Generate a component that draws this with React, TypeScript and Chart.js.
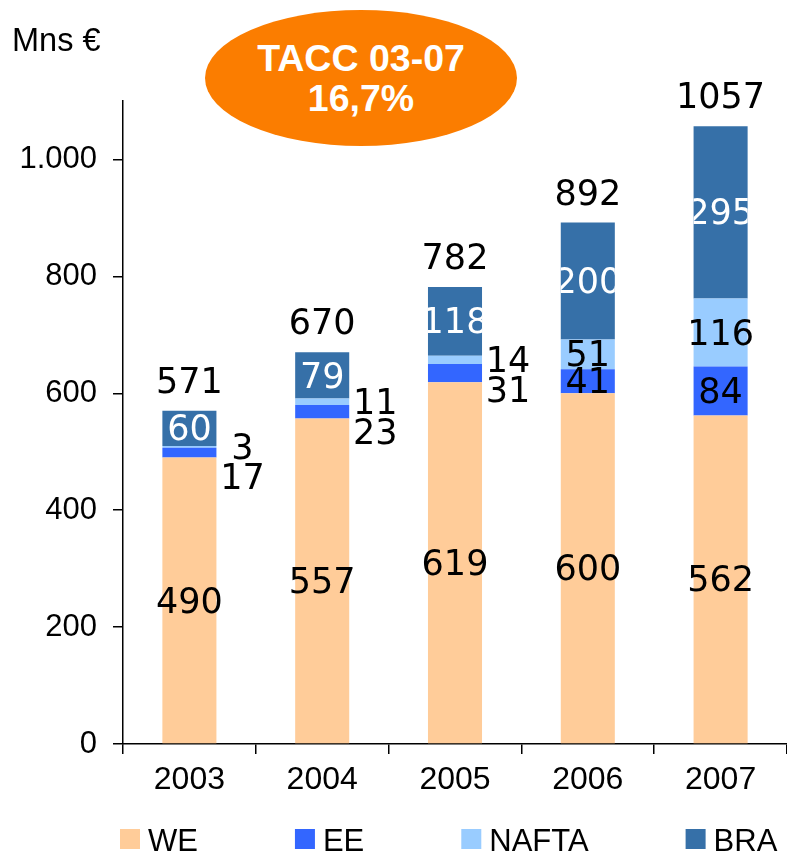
import { useEffect, useRef } from "react";
import { Chart, registerables } from "chart.js";

Chart.register(...registerables);

const years = ["2003", "2004", "2005", "2006", "2007"];
const weValues = [490, 557, 619, 600, 562];
const eeValues = [17, 23, 31, 41, 84];
const naftaValues = [3, 11, 14, 51, 116];
const braValues = [60, 79, 118, 200, 295];
const totalLabels = [571, 670, 782, 892, 1057];
const yTicks = [0, 200, 400, 600, 800, 1000];
const seriesNames = ["WE", "EE", "NAFTA", "BRA"];

const seriesColors = ["#FFCC99", "#3366FF", "#99CCFF", "#3670A8"];
const SANS = '"Liberation Sans", Arial, sans-serif';
const LABEL_FONT = '35px "DejaVu Sans", Verdana, sans-serif';

function fmt(v: number): string {
  if (v >= 1000) {
    return `${Math.floor(v / 1000)}.${String(v % 1000).padStart(3, "0")}`;
  }
  return String(v);
}

const labelPlugin = {
  id: "segLabels",
  afterDatasetsDraw(chart: any) {
    const ctx = chart.ctx as CanvasRenderingContext2D;
    const metas = [0, 1, 2, 3].map((d) => chart.getDatasetMeta(d));
    const mid = (el: any) => (el.y + el.base) / 2 + 3;
    ctx.save();
    ctx.font = LABEL_FONT;
    ctx.textAlign = "center";
    ctx.textBaseline = "middle";
    years.forEach((_, i) => {
      const we = metas[0].data[i];
      const ee = metas[1].data[i];
      const na = metas[2].data[i];
      const br = metas[3].data[i];
      ctx.fillStyle = "#000";
      ctx.fillText(String(weValues[i]), we.x, mid(we));
      const naH = Math.abs(na.base - na.y);
      if (naH < 20) {
        const lx = na.x + na.width / 2 + 26;
        const ny = mid(na);
        ctx.fillText(String(naftaValues[i]), lx, ny);
        ctx.fillText(String(eeValues[i]), lx, Math.max(mid(ee), ny + 30));
      } else {
        ctx.fillText(String(naftaValues[i]), na.x, mid(na));
        ctx.fillText(String(eeValues[i]), ee.x, mid(ee));
      }
      ctx.save();
      ctx.beginPath();
      ctx.rect(br.x - br.width / 2, br.y, br.width, br.base - br.y);
      ctx.clip();
      ctx.fillStyle = "#fff";
      ctx.fillText(String(braValues[i]), br.x, mid(br));
      ctx.restore();
      ctx.fillStyle = "#000";
      ctx.fillText(String(totalLabels[i]), br.x, br.y - 27);
    });
    ctx.restore();
  },
};

const legendPlugin = {
  id: "customLegend",
  afterDraw(chart: any) {
    const ctx = chart.ctx as CanvasRenderingContext2D;
    ctx.save();
    ctx.font = `31px ${SANS}`;
    ctx.textAlign = "left";
    ctx.textBaseline = "alphabetic";
    let x = 120;
    chart.data.datasets.forEach((ds: any) => {
      ctx.fillStyle = ds.backgroundColor;
      ctx.fillRect(x, 829, 20, 20);
      ctx.fillStyle = "#000";
      ctx.fillText(ds.label, x + 28, 851);
      x += 28 + ctx.measureText(ds.label).width + 97;
    });
    ctx.restore();
  },
};

export default function App() {
  const ref = useRef<HTMLCanvasElement | null>(null);

  useEffect(() => {
    if (!ref.current) return;
    const values = [weValues, eeValues, naftaValues, braValues];
    const chart = new Chart(ref.current, {
      type: "bar",
      data: {
        labels: years,
        datasets: seriesNames.map((name, d) => ({
          label: name,
          data: values[d],
          backgroundColor: seriesColors[d],
          borderWidth: 0,
          categoryPercentage: 1,
          barPercentage: 0.407,
        })),
      },
      options: {
        responsive: false,
        animation: false,
        events: [],
        layout: { padding: { top: 101, left: 0, right: 0, bottom: 0 } },
        plugins: {
          legend: { display: false },
          tooltip: { enabled: false },
        },
        scales: {
          x: {
            stacked: true,
            grid: {
              display: true,
              drawOnChartArea: false,
              drawTicks: true,
              tickLength: 10,
              color: "#000",
              lineWidth: 1.5,
              offset: true,
            },
            border: { display: true, color: "#000", width: 1.5 },
            ticks: { color: "#000", font: { family: SANS, size: 32 }, padding: 7 },
            afterFit: (s: any) => {
              s.height = 107;
            },
          },
          y: {
            stacked: true,
            min: 0,
            max: 1100,
            grid: {
              display: true,
              drawOnChartArea: false,
              drawTicks: true,
              tickLength: 10,
              color: "#000",
              lineWidth: 1.5,
            },
            border: { display: true, color: "#000", width: 1.5 },
            ticks: {
              color: "#000",
              font: { family: SANS, size: 31 },
              padding: 16,
              callback: (v: any) => fmt(Number(v)),
            },
            afterBuildTicks: (s: any) => {
              s.ticks = yTicks.map((v) => ({ value: v }));
            },
            afterFit: (s: any) => {
              s.width = 123;
            },
          },
        },
      },
      plugins: [labelPlugin, legendPlugin],
    });
    return () => chart.destroy();
  }, []);

  return (
    <div style={{ position: "absolute", left: 0, top: 0, width: 787, height: 851, background: "#fff", overflow: "hidden" }}>
      <canvas ref={ref} width={787} height={851} style={{ position: "absolute", left: 0, top: 0, display: "block" }} />
      <div
        style={{
          position: "absolute",
          left: 12,
          top: 24,
          fontFamily: SANS,
          fontSize: 32.5,
          lineHeight: "32px",
          color: "#000",
          whiteSpace: "nowrap",
        }}
      >
        Mns €
      </div>
      <div
        style={{
          position: "absolute",
          left: 205,
          top: 10,
          width: 312,
          height: 136,
          borderRadius: "50%",
          background: "#FB7D00",
          color: "#fff",
          display: "flex",
          flexDirection: "column",
          alignItems: "center",
          justifyContent: "center",
          fontFamily: SANS,
          fontWeight: "bold",
          fontSize: 37.5,
          lineHeight: "40px",
          whiteSpace: "nowrap",
        }}
      >
        <div>TACC 03-07</div>
        <div>16,7%</div>
      </div>
    </div>
  );
}
